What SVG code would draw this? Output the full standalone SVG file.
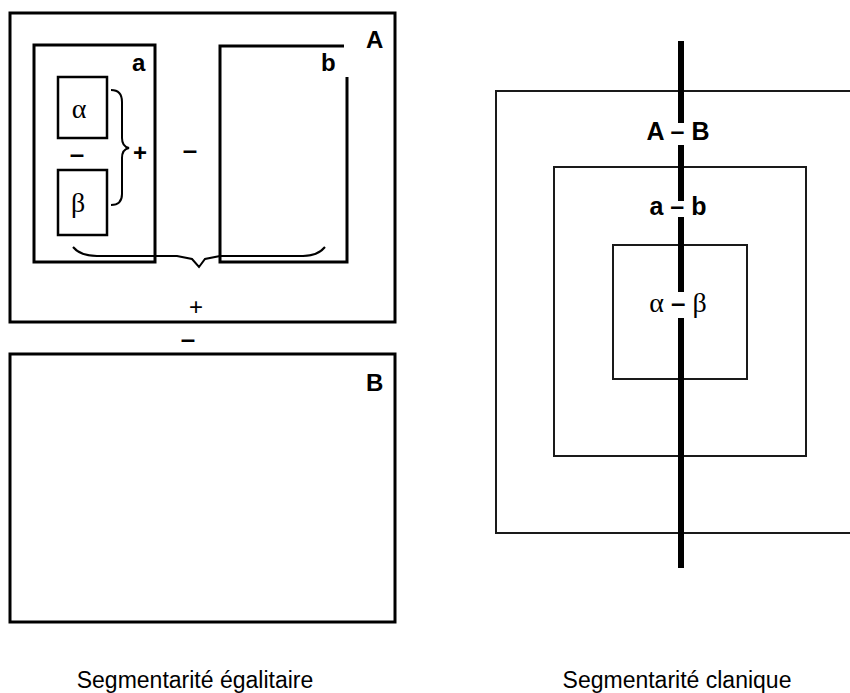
<svg xmlns="http://www.w3.org/2000/svg" width="850" height="693" viewBox="0 0 850 693">
<style>
.box{fill:none;stroke:#000;stroke-width:3}
.sbox{fill:none;stroke:#000;stroke-width:2.5}
.sq{fill:none;stroke:#1a1a1a;stroke-width:2}
.brace{fill:none;stroke:#000;stroke-width:2}
.lbl{font-family:"Liberation Sans",Arial,sans-serif;font-weight:bold;font-size:24px;fill:#000}
.sign{font-family:"Liberation Sans",Arial,sans-serif;font-weight:bold;font-size:26px;fill:#000;text-anchor:middle}
.pair{font-family:"Liberation Sans",Arial,sans-serif;font-weight:bold;font-size:25px;fill:#000;text-anchor:middle}
.greek{font-family:"Liberation Serif","Times New Roman",serif;font-size:28px;fill:#000;text-anchor:middle}
.dash{font-family:"Liberation Sans",Arial,sans-serif;font-weight:bold;font-size:26px}
.cap{font-family:"Liberation Sans",Arial,sans-serif;font-size:23px;fill:#000;text-anchor:middle}
.thick{stroke:#000;stroke-width:6}
</style>
<rect width="850" height="693" fill="#fff"/>

<g id="left">
<g id="boxA">
<rect class="box" x="10" y="13" width="385" height="309"/>
<text class="lbl" x="366" y="48">A</text>
</g>
<g id="boxa">
<rect class="box" x="34" y="45" width="121" height="217"/>
<text class="lbl" x="132" y="71">a</text>
</g>
<g id="boxb">
<path class="box" d="M344,46 H220 V262 H347 V77"/>
<text class="lbl" x="321" y="71">b</text>
</g>
<g id="alpha">
<rect class="sbox" x="58" y="77" width="49" height="61"/>
<text class="greek" x="79" y="118">α</text>
</g>
<g id="beta">
<rect class="sbox" x="58" y="170" width="49" height="65"/>
<text class="greek" x="78" y="212">β</text>
</g>
<g id="boxB">
<rect class="box" x="10" y="354" width="385" height="268"/>
<text class="lbl" x="366" y="391">B</text>
</g>
<g id="signs">
<text class="sign" x="77" y="163">–</text>
<text class="sign" x="140" y="161" style="font-size:24px">+</text>
<text class="sign" x="190" y="159">–</text>
<text class="sign" x="196" y="315" style="font-weight:normal;font-size:24px">+</text>
<text class="sign" x="188" y="348">–</text>
</g>
<g id="braces">
<path class="brace" d="M111,90 C118,90 122,93 122,102 V138 C122,144 124,147 129,148 C124,149 122,152 122,158 V194 C122,202 118,205 111,205"/>
<path class="brace" d="M73,247 C78,253 86,256 97,256 H177 L192,259 L199,267 L205,259 L220,256 H303 C313,256 320,253 325,247"/>
</g>
</g>

<g id="right">
<g id="sqOuter"><path class="sq" d="M850,91 H496 V533 H850"/></g>
<g id="sqMiddle"><rect class="sq" x="554" y="167" width="252" height="289"/></g>
<g id="sqInner"><rect class="sq" x="613" y="245" width="134" height="134"/></g>
<g id="connectors">
<line class="thick" x1="681" y1="41" x2="681" y2="123"/>
<line class="thick" x1="681" y1="145" x2="681" y2="201"/>
<line class="thick" x1="681" y1="217" x2="681" y2="292"/>
<line class="thick" x1="681" y1="318" x2="681" y2="568"/>
</g>
<g id="labels">
<text class="pair" x="678" y="140">A – B</text>
<text class="pair" x="678" y="215">a – b</text>
<text class="greek" x="678" y="312">α <tspan class="dash">–</tspan> β</text>
</g>
</g>

<g id="captions">
<text class="cap" x="195" y="688">Segmentarité égalitaire</text>
<text class="cap" x="677" y="688">Segmentarité clanique</text>
</g>
</svg>
